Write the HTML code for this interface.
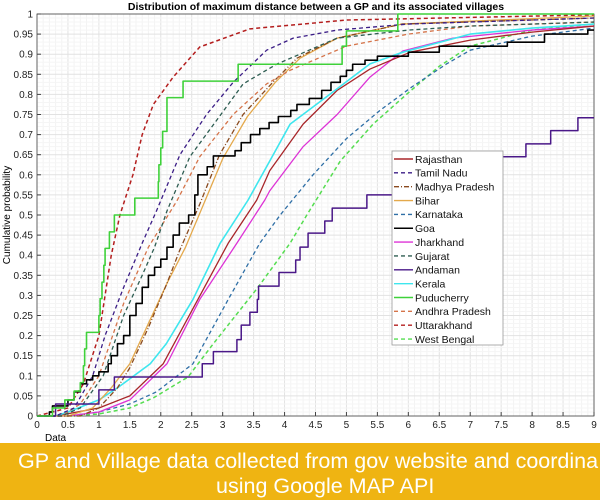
<!DOCTYPE html>
<html><head><meta charset="utf-8">
<style>
html,body{margin:0;padding:0;background:#fff;}
body{width:600px;height:504px;overflow:hidden;position:relative;font-family:"Liberation Sans",sans-serif;}
#banner{position:absolute;left:0;top:443px;width:600px;height:57px;background:#efb412;overflow:hidden;color:#fff;font-size:21.5px;white-space:nowrap;}
#b1{position:absolute;left:18px;top:6px;}
#b2{position:absolute;left:216px;top:31px;}
</style></head><body>
<svg id="chart" width="600" height="504" style="position:absolute;left:0;top:0" xmlns="http://www.w3.org/2000/svg" font-family="Liberation Sans, sans-serif">
<g id="grid"></g>
<g id="axes"></g>
<g id="series"></g>
<g id="legend"></g>
<text x="316" y="10" text-anchor="middle" font-size="10.5" font-weight="bold">Distribution of maximum distance between a GP and its associated villages</text>
<text x="45" y="441" font-size="10">Data</text>
<text transform="translate(10,215) rotate(-90)" text-anchor="middle" font-size="10">Cumulative probability</text>
</svg>
<div id="banner">
<div id="b1">GP and Village data collected from gov website and coordina</div>
<div id="b2">using Google MAP API</div>
</div>
<script>
const xTicks=[0,0.5,1,1.5,2,2.5,3,3.5,4,4.5,5,5.5,6,6.5,7,7.5,8,8.5,9];
const xTickLabels=["0","0.5","1","1.5","2","2.5","3","3.5","4","4.5","5","5.5","6","6.5","7","7.5","8","8.5","9"];
const yTicks=[0,0.05,0.1,0.15,0.2,0.25,0.3,0.35,0.4,0.45,0.5,0.55,0.6,0.65,0.7,0.75,0.8,0.85,0.9,0.95,1];
const yTickLabels=["0","0.05","0.1","0.15","0.2","0.25","0.3","0.35","0.4","0.45","0.5","0.55","0.6","0.65","0.7","0.75","0.8","0.85","0.9","0.95","1"];
const seriesNames=["Rajasthan","Tamil Nadu","Madhya Pradesh","Bihar","Karnataka","Goa","Jharkhand","Gujarat","Andaman","Kerala","Puducherry","Andhra Pradesh","Uttarakhand","West Bengal"];
const rajasthan=[[0.3,0],[1,0.02],[1.5,0.05],[2.04,0.13],[2.6,0.29],[3.09,0.43],[3.55,0.537],[3.76,0.61],[4.3,0.726],[4.85,0.81],[5.38,0.863],[6.03,0.905],[7,0.935],[8,0.955],[9,0.97]];
const tamilNadu=[[0.3,0],[0.6,0.02],[0.9,0.1],[1.1,0.2],[1.4,0.32],[1.7,0.43],[1.93,0.51],[2.31,0.65],[2.74,0.75],[3.17,0.83],[3.71,0.91],[4.14,0.94],[4.85,0.96],[6,0.975],[9,0.99]];
const madhyaPradesh=[[0.7,0],[1.0,0.02],[1.3,0.07],[1.5,0.12],[1.8,0.22],[2.1,0.33],[2.3,0.41],[2.63,0.527],[2.95,0.65],[3.33,0.75],[3.81,0.83],[4.2,0.89],[4.85,0.94],[5.9,0.975],[9,0.99]];
const bihar=[[0.5,0],[0.9,0.02],[1.2,0.07],[1.5,0.13],[1.8,0.23],[2.1,0.33],[2.4,0.42],[2.7,0.53],[3.0,0.64],[3.4,0.745],[3.85,0.83],[4.25,0.89],[4.85,0.94],[5.9,0.975],[9,0.995]];
const karnataka=[[0.5,0],[1,0.01],[1.5,0.03],[1.93,0.06],[2.52,0.13],[3.09,0.29],[3.6,0.43],[3.93,0.5],[4.46,0.6],[5.0,0.69],[5.54,0.76],[6.07,0.82],[6.62,0.876],[7,0.91],[8,0.945],[9,0.965]];
const goa=[[0.2,0.01],[0.25,0.025],[0.5,0.04],[0.6,0.06],[0.7,0.08],[0.8,0.09],[0.9,0.1],[1.0,0.11],[1.15,0.13],[1.2,0.15],[1.3,0.18],[1.4,0.2],[1.5,0.25],[1.6,0.28],[1.7,0.32],[1.8,0.35],[1.9,0.37],[2.0,0.39],[2.1,0.42],[2.2,0.45],[2.3,0.48],[2.45,0.5],[2.55,0.55],[2.6,0.6],[2.75,0.62],[2.85,0.647],[3.2,0.66],[3.3,0.68],[3.45,0.7],[3.6,0.715],[3.75,0.73],[3.9,0.745],[4.1,0.76],[4.2,0.775],[4.4,0.79],[4.6,0.81],[4.75,0.83],[4.9,0.845],[5.0,0.86],[5.1,0.875],[5.3,0.885],[5.5,0.895],[6.0,0.905],[6.5,0.92],[7.6,0.93],[8.2,0.95],[8.9,0.96]];
const jharkhand=[[0.5,0],[1,0.01],[1.5,0.04],[2.1,0.13],[2.63,0.29],[3.23,0.43],[3.68,0.537],[3.76,0.56],[4.3,0.67],[4.85,0.75],[5.38,0.843],[5.91,0.908],[6.72,0.94],[8,0.96],[9,0.97]];
const gujarat=[[0.4,0],[0.7,0.02],[1.07,0.1],[1.4,0.25],[1.7,0.35],[1.9,0.42],[2.1,0.51],[2.47,0.645],[2.9,0.735],[3.33,0.826],[3.87,0.875],[4.85,0.94],[6,0.96],[7,0.97],[9,0.98]];
const andaman=[[0.3,0.03],[1.0,0.065],[1.25,0.097],[2.67,0.13],[2.85,0.16],[3.23,0.19],[3.3,0.226],[3.44,0.258],[3.56,0.29],[3.58,0.323],[3.91,0.357],[4.18,0.388],[4.25,0.42],[4.38,0.455],[4.65,0.485],[4.77,0.517],[5.33,0.55],[6.5,0.645],[7.9,0.677],[8.3,0.71],[8.74,0.742]];
const kerala=[[0.3,0],[0.5,0.01],[1,0.04],[1.3,0.07],[1.83,0.13],[2.09,0.18],[2.52,0.29],[2.96,0.43],[3.41,0.537],[3.76,0.634],[4.09,0.726],[4.73,0.8],[5.38,0.876],[5.91,0.905],[7,0.95],[8,0.965],[9,0.975]];
const puducherry=[[0.25,0.02],[0.45,0.04],[0.6,0.062],[0.7,0.083],[0.75,0.125],[0.77,0.167],[0.8,0.208],[1.0,0.25],[1.02,0.292],[1.05,0.333],[1.08,0.375],[1.1,0.417],[1.17,0.458],[1.25,0.5],[1.58,0.542],[1.96,0.583],[1.97,0.625],[2.0,0.667],[2.03,0.708],[2.1,0.792],[2.36,0.833],[3.25,0.875],[4.93,0.92],[5.0,0.958],[5.83,1.0]];
const andhraPradesh=[[0.4,0],[0.7,0.03],[1.0,0.1],[1.4,0.28],[1.8,0.42],[2.26,0.535],[2.63,0.645],[3.17,0.75],[3.71,0.826],[4.09,0.86],[5,0.92],[6,0.95],[7,0.97],[9,0.98]];
const uttarakhand=[[0,0],[0.5,0.02],[0.75,0.08],[1,0.2],[1.2,0.4],[1.34,0.5],[1.55,0.6],[1.7,0.7],[1.88,0.775],[2.2,0.843],[2.63,0.918],[3.44,0.963],[5,0.985],[9,0.998]];
const westBengal=[[0.5,0],[1,0.005],[1.5,0.02],[1.88,0.045],[2.44,0.097],[2.85,0.18],[3.57,0.32],[4.09,0.43],[4.36,0.5],[4.9,0.634],[5.43,0.726],[5.97,0.8],[6.5,0.87],[7.0,0.92],[8,0.96],[9,0.975]];

const NS="http://www.w3.org/2000/svg";
const X0=37,X1=594,Y0=416,Y1=14;
function sx(v){return X0+v/9*(X1-X0);}
function sy(p){return Y0-p*(Y0-Y1);}
function mk(tag,attrs,parent){const e=document.createElementNS(NS,tag);for(const k in attrs)e.setAttribute(k,attrs[k]);parent.appendChild(e);return e;}
const grid=document.getElementById('grid'),axes=document.getElementById('axes'),ser=document.getElementById('series'),leg=document.getElementById('legend');
mk('rect',{x:X0,y:Y1,width:X1-X0,height:Y0-Y1,fill:'#fff'},grid);
for(let i=0;i<=90;i++){const v=i*0.1;mk('line',{x1:sx(v),x2:sx(v),y1:Y1,y2:Y0,stroke:(i%5==0)?'#e2e2e2':'#f3f3f3','stroke-width':1},grid);}
for(let i=0;i<=100;i++){const v=i*0.01;mk('line',{x1:X0,x2:X1,y1:sy(v),y2:sy(v),stroke:(i%5==0)?'#e2e2e2':'#f5f5f5','stroke-width':1},grid);}
mk('rect',{x:X0,y:Y1,width:X1-X0,height:Y0-Y1,fill:'none',stroke:'#444','stroke-width':0.8},axes);
xTicks.forEach((v,i)=>{
  mk('line',{x1:sx(v),x2:sx(v),y1:Y0,y2:Y0-4,stroke:'#444'},axes);
  const t=mk('text',{x:sx(v),y:Y0+12,'text-anchor':'middle','font-size':10,fill:'#222'},axes);
  t.textContent=xTickLabels[i];
  
  
});
yTicks.forEach((v,i)=>{
  mk('line',{x1:X0,x2:X0+4,y1:sy(v),y2:sy(v),stroke:'#444'},axes);
  const t=mk('text',{x:X0-4,y:sy(v)+3.5,'text-anchor':'end','font-size':10,fill:'#222'},axes);
  t.textContent=yTickLabels[i];
  
  
});
const data=[rajasthan,tamilNadu,madhyaPradesh,bihar,karnataka,goa,jharkhand,gujarat,andaman,kerala,puducherry,andhraPradesh,uttarakhand,westBengal];
const colors=['#a8262a','#3b1d86','#8a4a1e','#e4a94c','#2f6fa6','#000','#dd33d6','#2e5d52','#4a1888','#3ee6ee','#3fd13a','#d5744a','#b41e1e','#55dd50'];
const dashes=['','4 3','5 2 1 2','','4 3','','','4 3','','','','4 3','4 3','4 3'];
const steps=[false,false,false,false,false,true,false,false,true,false,true,false,false,false];
const widths=[1.3,1.3,1.3,1.3,1.3,1.6,1.3,1.3,1.5,1.6,1.6,1.3,1.5,1.5];
const order=[13,4,6,0,9,3,2,11,7,1,12,5,8,10];
order.forEach(i=>{
  const pts=data[i];let d='';
  if(steps[i]){
    d='M'+sx(0)+','+sy(0)+' H'+sx(pts[0][0]);
    pts.forEach((p,k)=>{d+=' V'+sy(p[1]);const nx=k+1<pts.length?pts[k+1][0]:9;d+=' H'+sx(nx);});
  }else{
    d='M'+sx(0)+','+sy(0)+' L'+pts.map(p=>sx(p[0])+','+sy(p[1])).join(' L');
  }
  const p=mk('path',{d:d,fill:'none',stroke:colors[i],'stroke-width':widths[i],'stroke-dasharray':dashes[i],'stroke-linejoin':'round'},ser);
  
  
});
const lb=mk('rect',{x:392,y:151,width:111,height:194,fill:'#fff',stroke:'#999','stroke-width':0.8},leg);


seriesNames.forEach((n,i)=>{
  const y=159+i*13.85;
  const g=mk('g',{},leg);
  
  
  mk('line',{x1:394,x2:413,y1:y,y2:y,stroke:colors[i],'stroke-width':1.4,'stroke-dasharray':dashes[i]},g);
  const t=mk('text',{x:415,y:y+3.8,'font-size':10.5,fill:'#111'},g);
  t.textContent=n;
});
</script>
</body></html>
